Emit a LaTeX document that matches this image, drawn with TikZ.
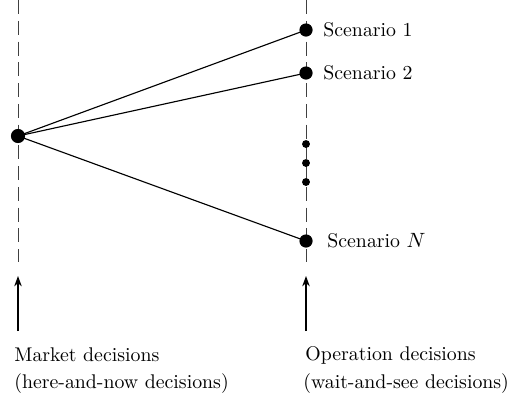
\documentclass[tikz,border=0pt]{standalone}
\usetikzlibrary{arrows.meta}
\begin{document}
\begin{tikzpicture}[x=0.53pt,y=-0.53pt,
  every node/.style={font=\fontsize{10.5}{12.5}\selectfont},
  stage/.style={dash pattern=on 7.5pt off 3.5pt, line width=0.45pt, draw=black!75},
  bigdot/.style={circle,fill=black,inner sep=0pt,minimum size=7pt},
  smalldot/.style={circle,fill=black,inner sep=0pt,minimum size=4.2pt},
  branch/.style={line width=0.6pt},
  lbl/.style={anchor=west,inner sep=0pt},
  note/.style={anchor=west,inner sep=0pt,align=left}]
\useasboundingbox (0,0) rectangle (509,400);
% time stages
\coordinate (ltop) at (18,0);
\coordinate (lbot) at (18,262);
\coordinate (rtop) at (306,0);
\coordinate (rbot) at (306,262);
\draw[stage] (ltop) -- (lbot);
\draw[stage] (rtop) -- (rbot);
% root and scenario nodes
\node[bigdot,minimum width=6pt,minimum height=7.5pt] (root) at (18,136) {};
\node[bigdot] (s1) at (306,30) {};
\node[bigdot] (s2) at (306,73) {};
\node[smalldot] (d1) at (306,144) {};
\node[smalldot] (d2) at (306,163) {};
\node[smalldot] (d3) at (306,182) {};
\node[bigdot] (sn) at (306,241) {};
\draw[branch] (root.center) -- (s1.center);
\draw[branch] (root.center) -- (s2.center);
\draw[branch] (root.center) -- (sn.center);
\node[lbl] (t1) at (323,30) {Scenario 1};
\node[lbl] (t2) at (323,73) {Scenario 2};
\node[lbl] (tn) at (327,241) {Scenario $N$};
% decision arrows
\coordinate (la) at (18,331);
\coordinate (lt) at (18,276);
\coordinate (ra) at (306,331);
\coordinate (rt) at (306,276);
\draw[branch,-{Stealth[length=5.5pt,width=4pt]}] (la) -- (lt);
\draw[branch,-{Stealth[length=5.5pt,width=4pt]}] (ra) -- (rt);
\node[note] (m1) at (14,355) {Market decisions};
\node[note] (m2) at (14,384) {(here-and-now decisions)};
\node[note] (o1) at (305,355) {Operation decisions};
\node[note] (o2) at (303,384) {(wait-and-see decisions)};
\end{tikzpicture}
\end{document}
